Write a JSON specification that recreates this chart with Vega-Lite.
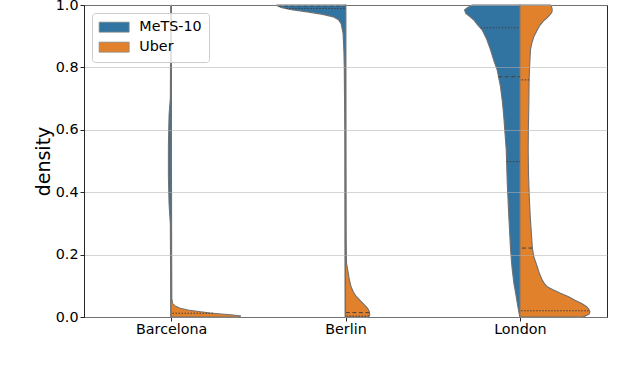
{
  "$schema": "https://vega.github.io/schema/vega-lite/v6.json",
  "width": 523,
  "height": 312,
  "autosize": {"type": "none"},
  "padding": {"left": 84, "top": 5, "right": 33, "bottom": 50},
  "config": {
    "font": "DejaVu Sans",
    "view": {"stroke": "#262626", "strokeWidth": 1},
    "axis": {
      "labelFont": "DejaVu Sans", "titleFont": "DejaVu Sans",
      "labelColor": "#000000", "titleColor": "#000000",
      "domainColor": "#262626", "tickColor": "#262626",
      "labelFontSize": 14.3, "tickSize": 4, "labelOverlap": false
    },
    "legend": {
      "orient": "top-left", "offset": 8,
      "fillColor": "rgba(255,255,255,0.8)", "strokeColor": "#cccccc", "cornerRadius": 3,
      "padding": 7, "labelFont": "DejaVu Sans", "labelFontSize": 14.3, "labelColor": "#000000",
      "symbolType": "M-3,-1H3V1H-3Z", "symbolSize": 100, "symbolOffset": 8,
      "symbolStrokeColor": "#8a8a8a", "symbolStrokeWidth": 0.8, "symbolOpacity": 1,
      "labelOffset": 18, "rowPadding": 5
    }
  },
  "datasets": {
    "violin": [
      {"city": "Barcelona", "group": "MeTS-10", "y": 0, "edge": -0.002},
      {"city": "Barcelona", "group": "MeTS-10", "y": 0.1, "edge": -0.003},
      {"city": "Barcelona", "group": "MeTS-10", "y": 0.3, "edge": -0.005},
      {"city": "Barcelona", "group": "MeTS-10", "y": 0.36, "edge": -0.012},
      {"city": "Barcelona", "group": "MeTS-10", "y": 0.45, "edge": -0.016},
      {"city": "Barcelona", "group": "MeTS-10", "y": 0.55, "edge": -0.016},
      {"city": "Barcelona", "group": "MeTS-10", "y": 0.65, "edge": -0.012},
      {"city": "Barcelona", "group": "MeTS-10", "y": 0.7, "edge": -0.005},
      {"city": "Barcelona", "group": "MeTS-10", "y": 0.9, "edge": -0.003},
      {"city": "Barcelona", "group": "MeTS-10", "y": 1.0, "edge": -0.002},

      {"city": "Barcelona", "group": "Uber", "y": 0, "edge": 0.38},
      {"city": "Barcelona", "group": "Uber", "y": 0.003, "edge": 0.40},
      {"city": "Barcelona", "group": "Uber", "y": 0.0064, "edge": 0.357},
      {"city": "Barcelona", "group": "Uber", "y": 0.01, "edge": 0.28},
      {"city": "Barcelona", "group": "Uber", "y": 0.013, "edge": 0.22},
      {"city": "Barcelona", "group": "Uber", "y": 0.017, "edge": 0.168},
      {"city": "Barcelona", "group": "Uber", "y": 0.022, "edge": 0.1},
      {"city": "Barcelona", "group": "Uber", "y": 0.028, "edge": 0.053},
      {"city": "Barcelona", "group": "Uber", "y": 0.035, "edge": 0.025},
      {"city": "Barcelona", "group": "Uber", "y": 0.044, "edge": 0.008},
      {"city": "Barcelona", "group": "Uber", "y": 0.06, "edge": 0.004},
      {"city": "Barcelona", "group": "Uber", "y": 0.2, "edge": 0.003},
      {"city": "Barcelona", "group": "Uber", "y": 0.5, "edge": 0.002},
      {"city": "Barcelona", "group": "Uber", "y": 1.0, "edge": 0.002},

      {"city": "Berlin", "group": "MeTS-10", "y": 0, "edge": 0.998},
      {"city": "Berlin", "group": "MeTS-10", "y": 0.2, "edge": 0.997},
      {"city": "Berlin", "group": "MeTS-10", "y": 0.6, "edge": 0.996},
      {"city": "Berlin", "group": "MeTS-10", "y": 0.8, "edge": 0.993},
      {"city": "Berlin", "group": "MeTS-10", "y": 0.85, "edge": 0.991},
      {"city": "Berlin", "group": "MeTS-10", "y": 0.91, "edge": 0.986},
      {"city": "Berlin", "group": "MeTS-10", "y": 0.94, "edge": 0.975},
      {"city": "Berlin", "group": "MeTS-10", "y": 0.953, "edge": 0.96},
      {"city": "Berlin", "group": "MeTS-10", "y": 0.962, "edge": 0.93},
      {"city": "Berlin", "group": "MeTS-10", "y": 0.97, "edge": 0.87},
      {"city": "Berlin", "group": "MeTS-10", "y": 0.978, "edge": 0.78},
      {"city": "Berlin", "group": "MeTS-10", "y": 0.985, "edge": 0.69},
      {"city": "Berlin", "group": "MeTS-10", "y": 0.992, "edge": 0.63},
      {"city": "Berlin", "group": "MeTS-10", "y": 1.0, "edge": 0.604},

      {"city": "Berlin", "group": "Uber", "y": 0, "edge": 1.132},
      {"city": "Berlin", "group": "Uber", "y": 0.006, "edge": 1.139},
      {"city": "Berlin", "group": "Uber", "y": 0.017, "edge": 1.137},
      {"city": "Berlin", "group": "Uber", "y": 0.028, "edge": 1.127},
      {"city": "Berlin", "group": "Uber", "y": 0.038, "edge": 1.11},
      {"city": "Berlin", "group": "Uber", "y": 0.054, "edge": 1.082},
      {"city": "Berlin", "group": "Uber", "y": 0.065, "edge": 1.063},
      {"city": "Berlin", "group": "Uber", "y": 0.08, "edge": 1.045},
      {"city": "Berlin", "group": "Uber", "y": 0.097, "edge": 1.032},
      {"city": "Berlin", "group": "Uber", "y": 0.12, "edge": 1.022},
      {"city": "Berlin", "group": "Uber", "y": 0.15, "edge": 1.013},
      {"city": "Berlin", "group": "Uber", "y": 0.172, "edge": 1.006},
      {"city": "Berlin", "group": "Uber", "y": 0.2, "edge": 1.005},
      {"city": "Berlin", "group": "Uber", "y": 0.25, "edge": 1.004},
      {"city": "Berlin", "group": "Uber", "y": 0.5, "edge": 1.003},
      {"city": "Berlin", "group": "Uber", "y": 1.0, "edge": 1.002},

      {"city": "London", "group": "MeTS-10", "y": 0, "edge": 2.0},
      {"city": "London", "group": "MeTS-10", "y": 0.006, "edge": 1.998},
      {"city": "London", "group": "MeTS-10", "y": 0.033, "edge": 1.989},
      {"city": "London", "group": "MeTS-10", "y": 0.07, "edge": 1.978},
      {"city": "London", "group": "MeTS-10", "y": 0.108, "edge": 1.966},
      {"city": "London", "group": "MeTS-10", "y": 0.16, "edge": 1.955},
      {"city": "London", "group": "MeTS-10", "y": 0.215, "edge": 1.947},
      {"city": "London", "group": "MeTS-10", "y": 0.321, "edge": 1.937},
      {"city": "London", "group": "MeTS-10", "y": 0.428, "edge": 1.928},
      {"city": "London", "group": "MeTS-10", "y": 0.535, "edge": 1.922},
      {"city": "London", "group": "MeTS-10", "y": 0.642, "edge": 1.908},
      {"city": "London", "group": "MeTS-10", "y": 0.69, "edge": 1.9},
      {"city": "London", "group": "MeTS-10", "y": 0.738, "edge": 1.889},
      {"city": "London", "group": "MeTS-10", "y": 0.792, "edge": 1.87},
      {"city": "London", "group": "MeTS-10", "y": 0.82, "edge": 1.852},
      {"city": "London", "group": "MeTS-10", "y": 0.856, "edge": 1.832},
      {"city": "London", "group": "MeTS-10", "y": 0.89, "edge": 1.81},
      {"city": "London", "group": "MeTS-10", "y": 0.92, "edge": 1.784},
      {"city": "London", "group": "MeTS-10", "y": 0.935, "edge": 1.76},
      {"city": "London", "group": "MeTS-10", "y": 0.952, "edge": 1.736},
      {"city": "London", "group": "MeTS-10", "y": 0.962, "edge": 1.715},
      {"city": "London", "group": "MeTS-10", "y": 0.973, "edge": 1.69},
      {"city": "London", "group": "MeTS-10", "y": 0.984, "edge": 1.683},
      {"city": "London", "group": "MeTS-10", "y": 0.99, "edge": 1.695},
      {"city": "London", "group": "MeTS-10", "y": 0.997, "edge": 1.717},
      {"city": "London", "group": "MeTS-10", "y": 1.0, "edge": 1.727},

      {"city": "London", "group": "Uber", "y": 0, "edge": 2.36},
      {"city": "London", "group": "Uber", "y": 0.002, "edge": 2.37},
      {"city": "London", "group": "Uber", "y": 0.006, "edge": 2.387},
      {"city": "London", "group": "Uber", "y": 0.01, "edge": 2.398},
      {"city": "London", "group": "Uber", "y": 0.017, "edge": 2.402},
      {"city": "London", "group": "Uber", "y": 0.025, "edge": 2.396},
      {"city": "London", "group": "Uber", "y": 0.033, "edge": 2.383},
      {"city": "London", "group": "Uber", "y": 0.043, "edge": 2.355},
      {"city": "London", "group": "Uber", "y": 0.054, "edge": 2.316},
      {"city": "London", "group": "Uber", "y": 0.065, "edge": 2.28},
      {"city": "London", "group": "Uber", "y": 0.076, "edge": 2.233},
      {"city": "London", "group": "Uber", "y": 0.087, "edge": 2.19},
      {"city": "London", "group": "Uber", "y": 0.097, "edge": 2.157},
      {"city": "London", "group": "Uber", "y": 0.108, "edge": 2.14},
      {"city": "London", "group": "Uber", "y": 0.119, "edge": 2.128},
      {"city": "London", "group": "Uber", "y": 0.14, "edge": 2.112},
      {"city": "London", "group": "Uber", "y": 0.161, "edge": 2.1},
      {"city": "London", "group": "Uber", "y": 0.193, "edge": 2.08},
      {"city": "London", "group": "Uber", "y": 0.22, "edge": 2.072},
      {"city": "London", "group": "Uber", "y": 0.269, "edge": 2.066},
      {"city": "London", "group": "Uber", "y": 0.32, "edge": 2.06},
      {"city": "London", "group": "Uber", "y": 0.375, "edge": 2.055},
      {"city": "London", "group": "Uber", "y": 0.45, "edge": 2.05},
      {"city": "London", "group": "Uber", "y": 0.535, "edge": 2.048},
      {"city": "London", "group": "Uber", "y": 0.6, "edge": 2.049},
      {"city": "London", "group": "Uber", "y": 0.696, "edge": 2.052},
      {"city": "London", "group": "Uber", "y": 0.75, "edge": 2.053},
      {"city": "London", "group": "Uber", "y": 0.802, "edge": 2.056},
      {"city": "London", "group": "Uber", "y": 0.856, "edge": 2.061},
      {"city": "London", "group": "Uber", "y": 0.876, "edge": 2.068},
      {"city": "London", "group": "Uber", "y": 0.898, "edge": 2.08},
      {"city": "London", "group": "Uber", "y": 0.92, "edge": 2.1},
      {"city": "London", "group": "Uber", "y": 0.935, "edge": 2.115},
      {"city": "London", "group": "Uber", "y": 0.949, "edge": 2.136},
      {"city": "London", "group": "Uber", "y": 0.958, "edge": 2.155},
      {"city": "London", "group": "Uber", "y": 0.968, "edge": 2.172},
      {"city": "London", "group": "Uber", "y": 0.976, "edge": 2.183},
      {"city": "London", "group": "Uber", "y": 0.984, "edge": 2.186},
      {"city": "London", "group": "Uber", "y": 0.992, "edge": 2.183},
      {"city": "London", "group": "Uber", "y": 1.0, "edge": 2.176}
    ],
    "quart": [
      {"city": "Barcelona", "group": "Uber", "y": 0.012, "edge": 0.24, "kind": "quartile"},
      {"city": "Berlin", "group": "MeTS-10", "y": 0.989, "edge": 0.66, "kind": "quartile"},
      {"city": "Berlin", "group": "MeTS-10", "y": 0.997, "edge": 0.61, "kind": "median"},
      {"city": "Berlin", "group": "Uber", "y": 0.014, "edge": 1.137, "kind": "median"},
      {"city": "Berlin", "group": "Uber", "y": 0.003, "edge": 1.135, "kind": "quartile"},
      {"city": "London", "group": "MeTS-10", "y": 0.927, "edge": 1.776, "kind": "quartile"},
      {"city": "London", "group": "MeTS-10", "y": 0.77, "edge": 1.876, "kind": "median"},
      {"city": "London", "group": "MeTS-10", "y": 0.498, "edge": 1.925, "kind": "quartile"},
      {"city": "London", "group": "Uber", "y": 0.76, "edge": 2.053, "kind": "quartile"},
      {"city": "London", "group": "Uber", "y": 0.221, "edge": 2.072, "kind": "median"},
      {"city": "London", "group": "Uber", "y": 0.02, "edge": 2.395, "kind": "quartile"}
    ]
  },
  "encoding": {
    "x": {
      "field": "edge", "type": "quantitative", "stack": null,
      "scale": {"domain": [-0.5, 2.5], "nice": false, "zero": false},
      "axis": {
        "title": null, "values": [0, 1, 2], "grid": false, "labelFlush": false, "labelPadding": 1,
        "labelExpr": "datum.value == 0 ? 'Barcelona' : (datum.value == 1 ? 'Berlin' : 'London')"
      }
    },
    "y": {
      "field": "y", "type": "quantitative",
      "scale": {"domain": [0, 1], "nice": false, "zero": false},
      "axis": {
        "title": "density", "values": [0, 0.2, 0.4, 0.6, 0.8, 1], "format": ".1f",
        "grid": true, "gridColor": "#b0b0b0", "gridOpacity": 0.55, "zindex": 1,
        "labelPadding": 2, "titleFontSize": 19, "titleFontWeight": "normal",
        "titleX": -35, "titleY": 156, "titleAngle": 270, "titleAlign": "center", "titleBaseline": "alphabetic"
      }
    }
  },
  "layer": [
    {
      "data": {"name": "violin"},
      "transform": [{"filter": "datum.city === 'Barcelona'"}],
      "mark": {"type": "area", "orient": "horizontal", "stroke": "#707070", "strokeWidth": 1, "opacity": 1},
      "encoding": {
        "x2": {"datum": 0},
        "color": {"field": "group", "type": "nominal", "title": null,
          "scale": {"domain": ["MeTS-10", "Uber"], "range": ["#3274a1", "#e1812c"]}}
      }
    },
    {
      "data": {"name": "violin"},
      "transform": [{"filter": "datum.city === 'Berlin'"}],
      "mark": {"type": "area", "orient": "horizontal", "stroke": "#707070", "strokeWidth": 1.1, "opacity": 1},
      "encoding": {
        "x2": {"datum": 1},
        "color": {"field": "group", "type": "nominal", "title": null,
          "scale": {"domain": ["MeTS-10", "Uber"], "range": ["#3274a1", "#e1812c"]}}
      }
    },
    {
      "data": {"name": "violin"},
      "transform": [{"filter": "datum.city === 'London'"}],
      "mark": {"type": "area", "orient": "horizontal", "stroke": "#707070", "strokeWidth": 1.1, "opacity": 1},
      "encoding": {
        "x2": {"datum": 2},
        "color": {"field": "group", "type": "nominal", "title": null,
          "scale": {"domain": ["MeTS-10", "Uber"], "range": ["#3274a1", "#e1812c"]}}
      }
    },
    {
      "data": {"name": "quart"},
      "transform": [{"filter": "datum.city === 'Barcelona'"}],
      "mark": {"type": "rule", "color": "#404040", "strokeWidth": 1},
      "encoding": {
        "x2": {"datum": 0},
        "strokeDash": {"field": "kind", "type": "nominal", "legend": null,
          "scale": {"domain": ["median", "quartile"], "range": [[4, 2.5], [1.5, 1.5]]}}
      }
    },
    {
      "data": {"name": "quart"},
      "transform": [{"filter": "datum.city === 'Berlin'"}],
      "mark": {"type": "rule", "color": "#404040", "strokeWidth": 1},
      "encoding": {
        "x2": {"datum": 1},
        "strokeDash": {"field": "kind", "type": "nominal", "legend": null,
          "scale": {"domain": ["median", "quartile"], "range": [[4, 2.5], [1.5, 1.5]]}}
      }
    },
    {
      "data": {"name": "quart"},
      "transform": [{"filter": "datum.city === 'London'"}],
      "mark": {"type": "rule", "color": "#404040", "strokeWidth": 1},
      "encoding": {
        "x2": {"datum": 2},
        "strokeDash": {"field": "kind", "type": "nominal", "legend": null,
          "scale": {"domain": ["median", "quartile"], "range": [[4, 2.5], [1.5, 1.5]]}}
      }
    }
  ]
}
